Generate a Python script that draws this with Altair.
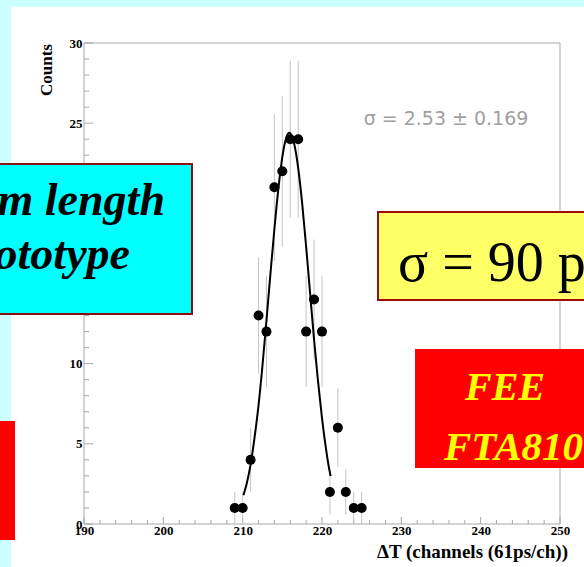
import altair as alt
import pandas as pd

# Time-difference histogram: channel, counts and Poisson error per bin
CHANNELS = [209, 210, 211, 212, 213, 214, 215, 216, 217, 218, 219, 220, 221, 222, 223, 224, 225]
COUNTS = [1, 1, 4, 13, 12, 21, 22, 24, 24, 12, 14, 12, 2, 6, 2, 1, 1]
ERRORS = [1.0, 1.0, 2.0, 3.61, 3.46, 4.58, 4.69, 4.9, 4.9, 3.46, 3.74, 3.46, 1.41, 2.45, 1.41, 1.0, 1.0]

# Gaussian fit curve, sampled along the fit range
FIT_X = [210.1, 210.5, 211, 211.5, 212, 212.5, 213, 213.5, 214, 214.5, 215, 215.5, 215.9,
         216.5, 217, 217.5, 218, 218.5, 219, 219.5, 220, 220.5, 221, 221.1]
FIT_Y = [1.8, 2.5, 3.7, 5.4, 7.4, 9.9, 12.7, 15.6, 18.4, 20.9, 22.9, 24.1, 24.4,
         23.7, 22.2, 20.0, 17.3, 14.4, 11.5, 8.9, 6.6, 4.7, 3.2, 3.0]

# Axis ticks
X_MAJOR = [190, 200, 210, 220, 230, 240, 250]
X_MINOR = [v for v in range(190, 251, 2) if v % 10]
Y_MAJOR = [0, 5, 10, 15, 20, 25, 30]
Y_MINOR = [v for v in range(0, 31) if v % 5]

FIT_LABEL = "σ = 2.53 ± 0.169"
X_TITLE = "ΔT (channels (61ps/ch))"
Y_TITLE = "Counts"

W, H = 476, 481
SERIF = "Liberation Serif"
FRAME = "#a8a8a8"

pts = pd.DataFrame({"x": CHANNELS, "y": COUNTS, "err": ERRORS})
pts["lo"] = pts["y"] - pts["err"]
pts["hi"] = pts["y"] + pts["err"]
fit = pd.DataFrame({"x": FIT_X, "y": FIT_Y})
xmaj = pd.DataFrame({"x": X_MAJOR})
xmin = pd.DataFrame({"x": X_MINOR})
ymaj = pd.DataFrame({"y": Y_MAJOR})
ymin = pd.DataFrame({"y": Y_MINOR})
one = pd.DataFrame({"k": [0]})

x_scale = alt.Scale(domain=[190, 250], nice=False, zero=False)
y_scale = alt.Scale(domain=[0, 30], nice=False, zero=True)

x_axis = alt.Axis(values=X_MAJOR, format="d", labelFont=SERIF, labelFontSize=13,
                  labelFontWeight="bold", labelColor="black", labelPadding=0,
                  labelFlush=False, labelOverlap=False, ticks=False, domain=False,
                  grid=False, title=None)
y_axis = alt.Axis(values=Y_MAJOR, format="d", labelFont=SERIF, labelFontSize=13,
                  labelFontWeight="bold", labelColor="black", labelPadding=2,
                  labelFlush=False, labelOverlap=False, ticks=False, domain=False,
                  grid=False, title=None)


def X(field="x"):
    return alt.X(f"{field}:Q", scale=x_scale, axis=x_axis)


def Y(field="y"):
    return alt.Y(f"{field}:Q", scale=y_scale, axis=y_axis)


def box(x0, x1, y0, y1, fill, stroke=None, sw=0):
    props = {"fill": fill}
    if stroke:
        props.update(stroke=stroke, strokeWidth=sw)
    return alt.Chart(one).mark_rect(**props).encode(
        x=alt.value(x0), x2=alt.value(x1), y=alt.value(y0), y2=alt.value(y1))


def label(txt, x, y, size, color="black", weight="normal", style="normal",
          align="left", font=SERIF, angle=0, baseline="alphabetic"):
    return alt.Chart(one).mark_text(
        text=txt, fontSize=size, color=color, fontWeight=weight, fontStyle=style,
        align=align, font=font, angle=angle, baseline=baseline
    ).encode(x=alt.value(x), y=alt.value(y))


# page edge strips
strip_top = box(-84, 520, -43, -36, "#ccffff")
strip_left = box(-84, -73, -43, 530, "#ccffff")

frame = alt.Chart(one).mark_rect(fillOpacity=0, stroke=FRAME, strokeWidth=1).encode(
    x=alt.value(0), x2=alt.value(W), y=alt.value(0), y2=alt.value(H))

tick_xmaj = alt.Chart(xmaj).mark_rule(color=FRAME).encode(x=X(), y=alt.value(H), y2=alt.value(H - 7))
tick_xmin = alt.Chart(xmin).mark_rule(color=FRAME).encode(x=X(), y=alt.value(H), y2=alt.value(H - 4))
tick_ymaj = alt.Chart(ymaj).mark_rule(color=FRAME).encode(y=Y(), x=alt.value(0), x2=alt.value(9))
tick_ymin = alt.Chart(ymin).mark_rule(color=FRAME).encode(y=Y(), x=alt.value(0), x2=alt.value(5))

errbars = alt.Chart(pts).mark_rule(color="#c4c4c4", strokeWidth=1).encode(
    x=X(), y=Y("lo"), y2="hi:Q")
curve = alt.Chart(fit).mark_line(color="black", strokeWidth=2, interpolate="monotone").encode(
    x=X(), y=Y())
dots = alt.Chart(pts).mark_circle(size=100, color="black", opacity=1).encode(x=X(), y=Y())

fit_text = label(FIT_LABEL, 362, 76, 19, color="#a0a0a0", font="DejaVu Sans",
                 baseline="middle", align="center")

y_title = label(Y_TITLE, -37, 27, 17, weight="bold", angle=270, align="center", baseline="middle")
x_title = label(X_TITLE, 484, 515, 19, weight="bold", align="right")

# slide call-outs
cyan_box = box(-92, 108, 121, 271, "#00ffff", "#8b1010", 2)
cyan_t1 = label("m length", 81, 172, 46, weight="bold", style="italic", align="right")
cyan_t2 = label("ototype", 46, 226, 46, weight="bold", style="italic", align="right")

yellow_box = box(294, 540, 169, 257, "#ffff66", "#991010", 2)
yellow_t = label("σ = 90 ps", 314, 238, 56)

red_box = box(331, 540, 306, 425, "#ff0000")
red_t1 = label("FEE", 381, 357, 40, color="#ffff00", weight="bold", style="italic")
red_t2 = label("FTA810", 360, 417, 41, color="#ffff00", weight="bold", style="italic")

red_left = box(-84, -69, 378, 497, "#ff0000")

chart = alt.layer(
    strip_top, strip_left, frame, tick_xmaj, tick_xmin, tick_ymaj, tick_ymin,
    errbars, curve, dots, fit_text, y_title, x_title,
    cyan_box, cyan_t1, cyan_t2, yellow_box, yellow_t, red_box, red_t1, red_t2, red_left,
).properties(
    width=W, height=H,
    padding={"left": 84, "top": 43, "right": 24, "bottom": 43},
    autosize=alt.AutoSizeParams(type="none"),
    background="white",
).configure_view(strokeWidth=0)

chart.save("out.html", embed_options={"renderer": "svg", "actions": False})
